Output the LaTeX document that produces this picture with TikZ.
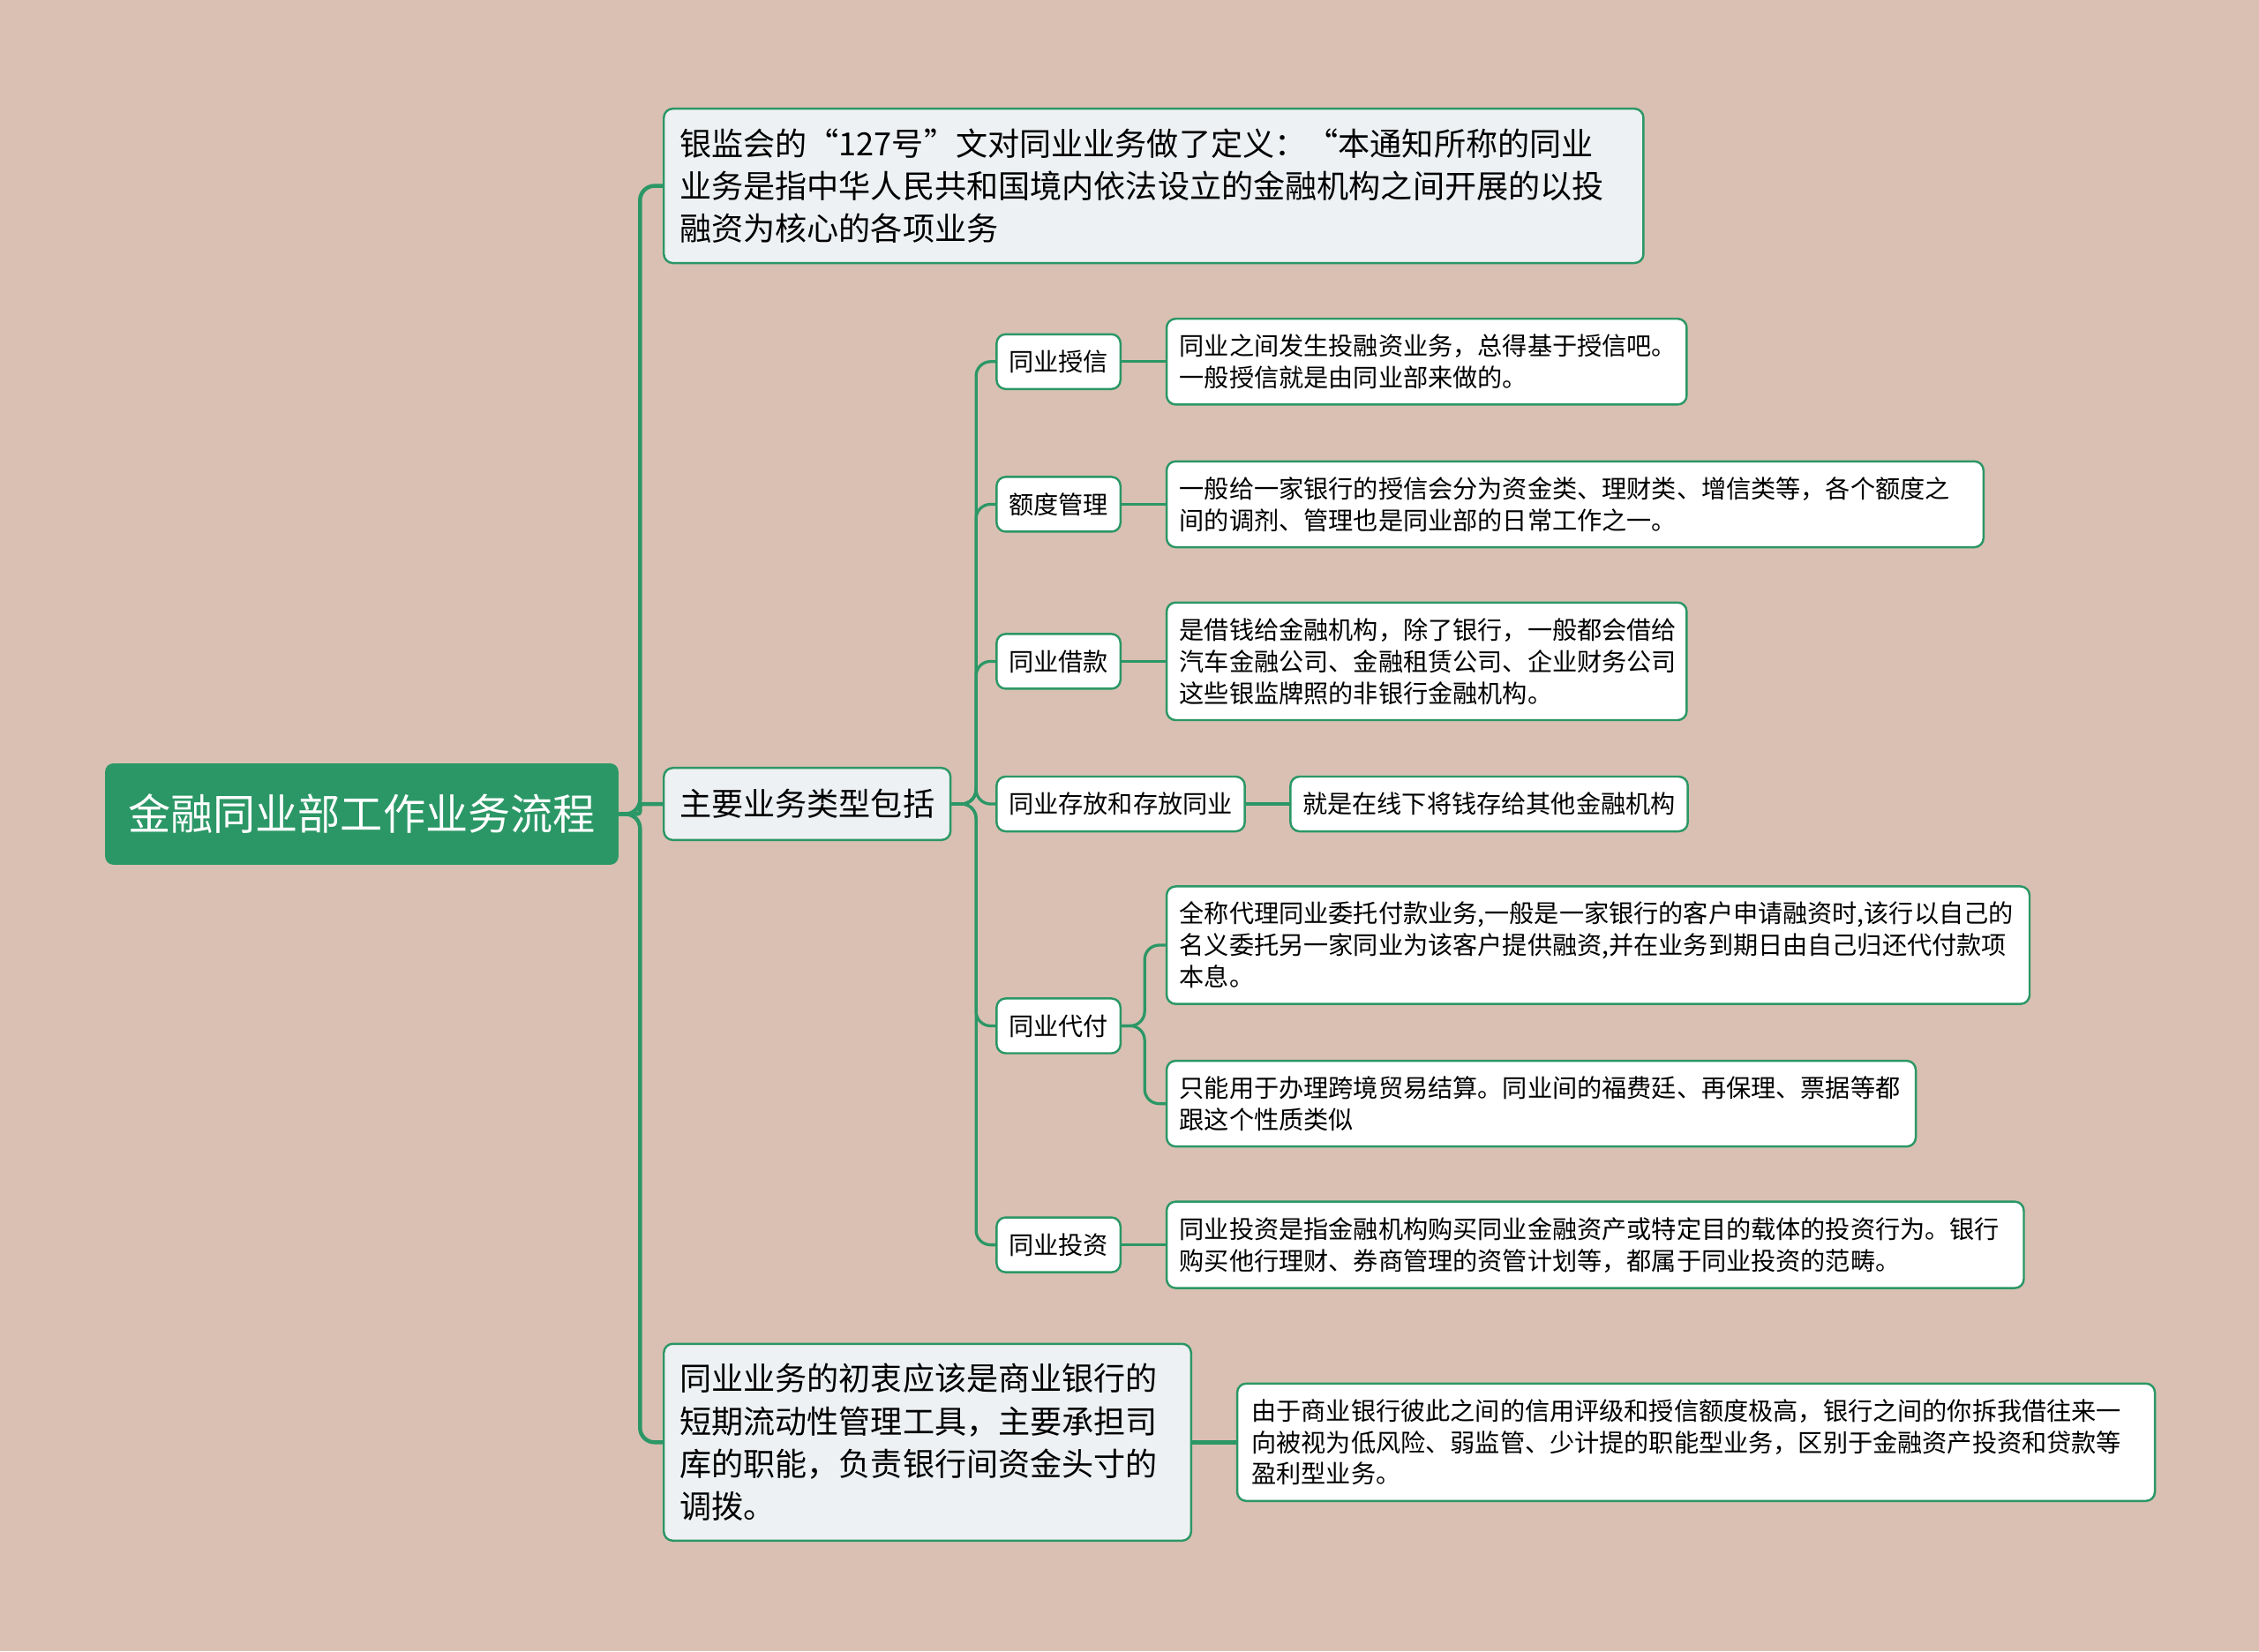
\documentclass[tikz,border=0pt]{standalone}
\usepackage{fontspec}
\setmainfont{Noto Sans CJK SC}
\definecolor{bg}{HTML}{D9C0B2}
\definecolor{mapgreen}{HTML}{2B9766}
\definecolor{boxfill}{HTML}{EEF1F3}
\newcommand{\bigtxt}{\fontsize{17.7pt}{23.6pt}\selectfont}
\newcommand{\smalltxt}{\fontsize{13.8pt}{17.6pt}\selectfont}
\begin{document}
\begin{tikzpicture}[x=0.8pt, y=-0.8pt,
  rootbox/.style={draw=mapgreen, fill=mapgreen, text=white, rounded corners=4pt, line width=1pt,
    minimum width=284pt, minimum height=55.2pt, inner sep=0pt, font=\fontsize{23.6pt}{28pt}\selectfont},
  topic/.style={draw=mapgreen, fill=boxfill, rounded corners=5pt, line width=1.2pt, anchor=west,
    align=left, inner xsep=8.8pt, inner ysep=11pt, font=\bigtxt},
  subtopic/.style={draw=mapgreen, fill=white, rounded corners=5pt, line width=1.2pt, anchor=west,
    inner xsep=6.8pt, minimum height=30.4pt, font=\smalltxt},
  leaf/.style={draw=mapgreen, fill=white, rounded corners=5pt, line width=1.2pt, anchor=west,
    align=left, inner xsep=7.2pt, inner ysep=8.6pt, font=\smalltxt},
  trunk/.style={draw=mapgreen, line width=2.2pt, rounded corners=8pt},
  branch/.style={draw=mapgreen, line width=1.6pt, rounded corners=8pt}]
  \fill[bg] (0,0) rectangle (1568,1146);
  \useasboundingbox (0,0) rectangle (1568,1146);

  % main topics
  \node[rootbox, anchor=west] (root) at (73,565) {金融同业部工作业务流程};
  \node[topic, text width=526.4pt] (define) at (460,129)
    {银监会的“127号”文对同业业务做了定义：“本通知所称的同业\\业务是指中华人民共和国境内依法设立的金融机构之间开展的以投\\融资为核心的各项业务};
  \node[topic, minimum height=40pt, inner ysep=9.6pt] (types) at (460,558) {主要业务类型包括};
  \node[topic, text width=275.2pt] (origin) at (460,1001)
    {同业业务的初衷应该是商业银行的\\短期流动性管理工具，主要承担司\\库的职能，负责银行间资金头寸的\\调拨。};
  \node[leaf, text width=493.6pt, inner xsep=8pt] (originleaf) at (858,1001)
    {由于商业银行彼此之间的信用评级和授信额度极高，银行之间的你拆我借往来一\\向被视为低风险、弱监管、少计提的职能型业务，区别于金融资产投资和贷款等\\盈利型业务。};

  % business types
  \node[subtopic] (credit) at (691,251) {同业授信};
  \node[subtopic] (quota) at (691,350) {额度管理};
  \node[subtopic] (loan) at (691,459) {同业借款};
  \node[subtopic] (deposit) at (691,558) {同业存放和存放同业};
  \node[subtopic] (agent) at (691,712) {同业代付};
  \node[subtopic] (invest) at (691,864) {同业投资};

  \node[leaf, text width=274.4pt] (creditleaf) at (809,251)
    {同业之间发生投融资业务，总得基于授信吧。\\一般授信就是由同业部来做的。};
  \node[leaf, text width=439.2pt] (quotaleaf) at (809,350)
    {一般给一家银行的授信会分为资金类、理财类、增信类等，各个额度之\\间的调剂、管理也是同业部的日常工作之一。};
  \node[leaf, text width=274.4pt] (loanleaf) at (809,459)
    {是借钱给金融机构，除了银行，一般都会借给\\汽车金融公司、金融租赁公司、企业财务公司\\这些银监牌照的非银行金融机构。};
  \node[subtopic] (depositleaf) at (895,558) {就是在线下将钱存给其他金融机构};
  \node[leaf, text width=464.8pt] (agentleafa) at (809,656)
    {全称代理同业委托付款业务,一般是一家银行的客户申请融资时,该行以自己的\\名义委托另一家同业为该客户提供融资,并在业务到期日由自己归还代付款项\\本息。};
  \node[leaf, text width=401.6pt] (agentleafb) at (809,766)
    {只能用于办理跨境贸易结算。同业间的福费廷、再保理、票据等都\\跟这个性质类似};
  \node[leaf, text width=461.6pt] (investleaf) at (809,864)
    {同业投资是指金融机构购买同业金融资产或特定目的载体的投资行为。银行\\购买他行理财、券商管理的资管计划等，都属于同业投资的范畴。};

  % connectors
  \draw[trunk] (root.east) -- ++(15,0) |- (define.west);
  \draw[trunk, rounded corners=1.5pt] (root.east) -- ++(15,0) |- (types.west);
  \draw[trunk] (root.east) -- ++(15,0) |- (origin.west);
  \draw[trunk] (origin.east) -- (originleaf.west);
  \foreach \kid in {credit, quota, loan, deposit, agent, invest}
    \draw[branch] (types.east) -- ++(17,0) |- (\kid.west);
  \draw[branch] (credit.east) -- (creditleaf.west);
  \draw[branch] (quota.east) -- (quotaleaf.west);
  \draw[branch] (loan.east) -- (loanleaf.west);
  \draw[branch] (deposit.east) -- (depositleaf.west);
  \draw[branch] (agent.east) -- ++(16,0) |- (agentleafa.west);
  \draw[branch] (agent.east) -- ++(16,0) |- (agentleafb.west);
  \draw[branch] (invest.east) -- (investleaf.west);
\end{tikzpicture}
\end{document}
